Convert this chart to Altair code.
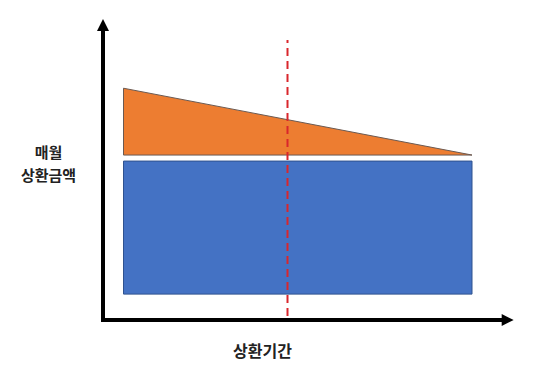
import altair as alt
import pandas as pd

# Conceptual units: both axes run 0..100
period_start = [5]
period_end = [90]
mid_point = [45]

principal_low = [8.6]       # blue block bottom
principal_high = [52.8]     # blue block top
interest_base = [54.8]      # orange triangle base
interest_x = [5, 90]
interest_top = [77.0, 54.8]  # decreasing interest

axis_max = 100

W, H = 410, 301

xs = alt.Scale(domain=[0, axis_max], nice=False, zero=False)
ys = alt.Scale(domain=[0, axis_max], nice=False, zero=False)

blue_df = pd.DataFrame({"x": period_start, "x2": period_end,
                        "y": principal_low, "y2": principal_high})
orange_df = pd.DataFrame({"x": interest_x, "y": interest_top,
                          "y2": interest_base * 2})
mid_df = pd.DataFrame({"x": mid_point, "y": [1.3], "y2": [93]})

yaxis_df = pd.DataFrame({"x": [0], "y": [0], "y2": [96]})
xaxis_df = pd.DataFrame({"x": [0], "x2": [97], "y": [0]})
yhead_df = pd.DataFrame({"x": [0], "y": [98]})
xhead_df = pd.DataFrame({"x": [98.7], "y": [0]})

x_enc = alt.X("x:Q", scale=xs, axis=alt.Axis(
    domain=False, ticks=False, labels=False, grid=False,
    title="상환기간", titleFont="Noto Sans CJK KR", titleFontSize=16,
    titleFontWeight="bold", titleColor="#222222",
    titleX=159, titleY=31, titleAlign="center", titleBaseline="middle"))
y_enc = alt.Y("y:Q", scale=ys, axis=alt.Axis(
    domain=False, ticks=False, labels=False, grid=False,
    title=["매월", "상환금액"], titleFont="Noto Sans CJK KR", titleFontSize=15,
    titleFontWeight="bold", titleColor="#222222", titleAngle=0,
    titleX=-55, titleY=126, titleAlign="center", titleBaseline="top",
    titleLineHeight=23))

blue = alt.Chart(blue_df).mark_rect(
    color="#4472C4", stroke="#2F528F", strokeWidth=1
).encode(x=x_enc, x2="x2:Q", y=y_enc, y2="y2:Q")

orange = alt.Chart(orange_df).mark_area(
    color="#ED7D31", stroke="#6b5a52", strokeWidth=1
).encode(x="x:Q", y="y:Q", y2="y2:Q")

mid = alt.Chart(mid_df).mark_rule(
    color="#d9262c", strokeWidth=2, strokeDash=[8, 5]
).encode(x="x:Q", y="y:Q", y2="y2:Q")

yaxis = alt.Chart(yaxis_df).mark_rule(
    color="black", strokeWidth=4, strokeCap="square"
).encode(x="x:Q", y="y:Q", y2="y2:Q")

xaxis = alt.Chart(xaxis_df).mark_rule(
    color="black", strokeWidth=4, strokeCap="square"
).encode(x="x:Q", x2="x2:Q", y="y:Q")

yhead = alt.Chart(yhead_df).mark_point(
    shape="M-1,1L0,-1L1,1Z", filled=True, color="black", opacity=1, size=144
).encode(x="x:Q", y="y:Q")

xhead = alt.Chart(xhead_df).mark_point(
    shape="M-1,-1L1,0L-1,1Z", filled=True, color="black", opacity=1, size=144
).encode(x="x:Q", y="y:Q")

chart = alt.layer(blue, orange, mid, yaxis, xaxis, yhead, xhead).properties(
    width=W, height=H,
    padding={"left": 103, "top": 19, "right": 27, "bottom": 58},
    autosize=alt.AutoSizeParams(type="none"),
    background="white",
).configure_view(strokeWidth=0, clip=False)

chart.save("out.html", embed_options={"renderer": "svg", "actions": False})
